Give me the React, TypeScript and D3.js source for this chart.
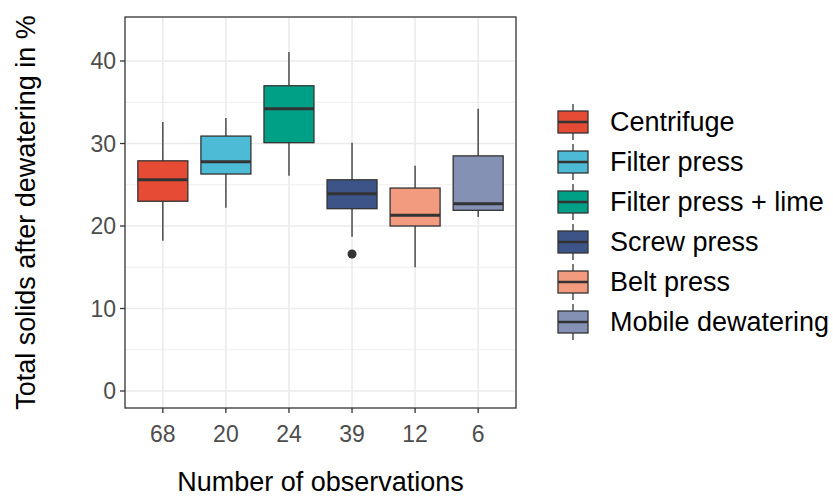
import React from "react";
import * as d3 from "d3";

const categories = ["Centrifuge","Filter press","Filter press + lime","Screw press","Belt press","Mobile dewatering"];
const obs = ["68","20","24","39","12","6"];
const lower = [18.2,22.2,26.1,18.7,15.0,21.1];
const q1 = [23.0,26.3,30.1,22.1,20.0,21.9];
const median = [25.6,27.8,34.2,23.9,21.3,22.7];
const q3 = [27.9,30.9,37.0,25.6,24.6,28.5];
const upper = [32.6,33.1,41.1,30.1,27.3,34.2];
const outliers = [[],[],[],[16.6],[],[]] as number[][];
const colors = ["#E64B35","#4DBBD5","#00A087","#3C5488","#F39B7F","#8491B4"];
const yTicks = [0,10,20,30,40];

export default function App() {
  const L = 125, R = 516, T = 17, B = 408;
  const y = d3.scaleLinear().domain([0,40]).range([391,61]);
  const x = d3.scaleBand().domain(obs).range([L,R]).padding(0.2);
  const bw = 50;
  const grid = "#EBEBEB";
  const yMinor = [5,15,25,35];
  return (
    <svg width={833} height={496} style={{position:"absolute",left:0,top:0,fontFamily:"Liberation Sans, Arial, sans-serif"}}>
      <rect width={833} height={496} fill="white"/>
      {yMinor.map(v=> <line key={"m"+v} x1={L} x2={R} y1={y(v)} y2={y(v)} stroke={grid} strokeWidth={0.8}/>)}
      {yTicks.map(v=> <line key={"g"+v} x1={L} x2={R} y1={y(v)} y2={y(v)} stroke={grid} strokeWidth={1.6}/>)}
      {obs.map(o=> <line key={"x"+o} x1={x(o)!+x.bandwidth()/2} x2={x(o)!+x.bandwidth()/2} y1={T} y2={B} stroke={grid} strokeWidth={1.6}/>)}
      {obs.map((o,i)=>{
        const cx = x(o)!+x.bandwidth()/2;
        return <g key={o}>
          <line x1={cx} x2={cx} y1={y(upper[i])} y2={y(q3[i])} stroke="#333" strokeWidth={1.3}/>
          <line x1={cx} x2={cx} y1={y(q1[i])} y2={y(lower[i])} stroke="#333" strokeWidth={1.3}/>
          <rect x={cx-bw/2} y={y(q3[i])} width={bw} height={y(q1[i])-y(q3[i])} fill={colors[i]} stroke="#333" strokeWidth={1.3}/>
          <line x1={cx-bw/2} x2={cx+bw/2} y1={y(median[i])} y2={y(median[i])} stroke="#333" strokeWidth={3}/>
          {outliers[i].map((v,j)=><circle key={j} cx={cx} cy={y(v)} r={4.5} fill="#333"/>)}
        </g>;
      })}
      <rect x={L} y={T} width={R-L} height={B-T} fill="none" stroke="#333" strokeWidth={1.3}/>
      {yTicks.map(v=> <g key={"t"+v}>
        <line x1={L-5} x2={L} y1={y(v)} y2={y(v)} stroke="#333" strokeWidth={1.3}/>
        <text x={L-9} y={y(v)} dy="0.35em" textAnchor="end" fontSize={23} fill="#4D4D4D">{v}</text>
      </g>)}
      {obs.map(o=>{ const cx = x(o)!+x.bandwidth()/2; return <g key={"xt"+o}>
        <line x1={cx} x2={cx} y1={B} y2={B+5} stroke="#333" strokeWidth={1.3}/>
        <text x={cx} y={B+34} textAnchor="middle" fontSize={23} fill="#4D4D4D">{o}</text>
      </g>;})}
      <text x={(L+R)/2} y={491} textAnchor="middle" fontSize={27} fill="black">Number of observations</text>
      <text transform={`translate(35,${(T+B)/2}) rotate(-90)`} textAnchor="middle" fontSize={27} fill="black">Total solids after dewatering in %</text>
      {categories.map((c,i)=>{
        const cy = 122 + i*40; const kx = 573;
        return <g key={c}>
          <line x1={kx} x2={kx} y1={cy-18} y2={cy+18} stroke="#333" strokeWidth={1.3}/>
          <rect x={kx-15} y={cy-11} width={30} height={22} fill={colors[i]} stroke="#333" strokeWidth={1.3}/>
          <line x1={kx-15} x2={kx+15} y1={cy} y2={cy} stroke="#333" strokeWidth={2.5}/>
          <text x={610} y={cy} dy="0.35em" fontSize={27} fill="black">{c}</text>
        </g>;
      })}
    </svg>
  );
}
